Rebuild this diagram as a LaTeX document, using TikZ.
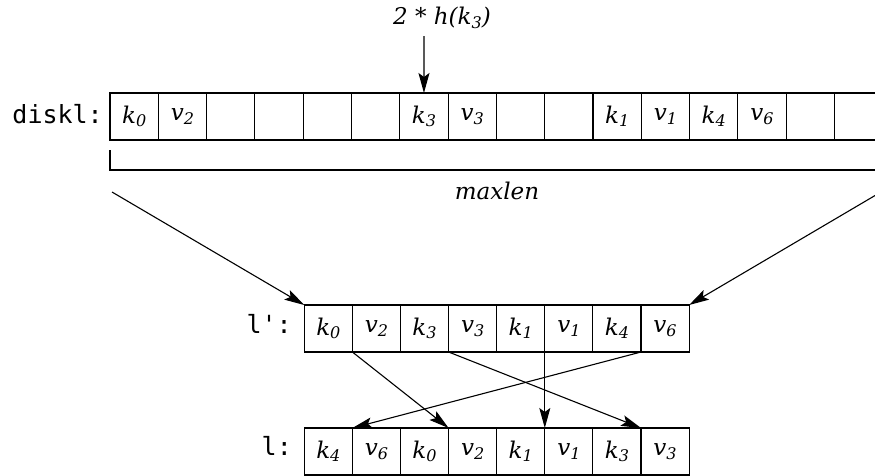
\documentclass[tikz,border=0pt]{standalone}
\usepackage{fontspec}
\setmainfont{DejaVu Serif}
\setmonofont{DejaVu Sans Mono}
\usetikzlibrary{arrows.meta}
\newcommand\subd[1]{\raisebox{-3.5pt}{\fontsize{16}{16}\selectfont\textit{#1}}}
\newcommand\kv[2]{\textit{#1}\subd{#2}}
\begin{document}
\begin{tikzpicture}[x=1pt,y=-1pt,
  cell/.style={draw, line width=1.1pt, minimum width=48.3pt, minimum height=47pt,
    inner sep=0pt, outer sep=0pt, font=\fontsize{23}{27}\selectfont},
  lab/.style={font=\ttfamily\fontsize{25}{30}\selectfont, anchor=east, inner sep=0pt},
  txt/.style={font=\fontsize{23}{27}\selectfont\itshape, inner sep=0pt},
  arr/.style={-{Stealth[length=20pt,width=11pt,inset=4pt]}, line width=1.1pt}]
\useasboundingbox (0,0) rectangle (875,475);
\clip (0,0) rectangle (875,475);
\fill[white] (0,0) rectangle (875,475);
% top row
\foreach \t [count=\i] in {{\kv k0},{\kv v2},{},{},{},{},{\kv k3},{\kv v3},{},{},{\kv k1},{\kv v1},{\kv k4},{\kv v6},{},{}}
  \node[cell] (d\i) at ({110+(\i-0.5)*48.3},116.5) {\t};
% l' row
\foreach \a/\b [count=\i] in {k/0,v/2,k/3,v/3,k/1,v/1,k/4,v/6}
  \node[cell, minimum width=48.1pt] (p\i) at ({304.3+(\i-0.5)*48.1},328.5) {\kv\a\b};
% l row
\foreach \a/\b [count=\i] in {k/4,v/6,k/0,v/2,k/1,v/1,k/3,v/3}
  \node[cell, minimum width=48.1pt] (q\i) at ({304.3+(\i-0.5)*48.1},451.5) {\kv\a\b};
% labels
\node[lab] (ldisk) at (103,114) {diskl:};
\node[lab] (lp) at (292,324) {l':};
\node[lab] (ll) at (292,446) {l:};
% bracket
\coordinate (b1) at (110,150);
\coordinate (b2) at (110,170);
\coordinate (b3) at (883,170);
\coordinate (b4) at (883,150);
\draw[line width=1.1pt] (b1) -- (b2) -- (b3) -- (b4);
\node[txt] (maxlen) at (497,191) {maxlen};
% top pointer
\node[txt] (hk) at (442,18) {2 * h(k\subd{3})};
\coordinate (hs) at (424,36);
\draw[arr] (hs) -- (d7.north);
% diagonal arrows
\coordinate (a1) at (112,192);
\coordinate (a2) at (881,192);
\draw[arr] (a1) -- (p1.north west);
\draw[arr] (a2) -- (p8.north east);
% permutation arrows
\draw[arr] (p1.south east) -- (q3.north east);
\draw[arr] (p3.south east) -- (q7.north east);
\draw[arr] (p5.south east) -- (q5.north east);
\draw[arr] (p7.south east) -- (q1.north east);
\end{tikzpicture}
\end{document}
